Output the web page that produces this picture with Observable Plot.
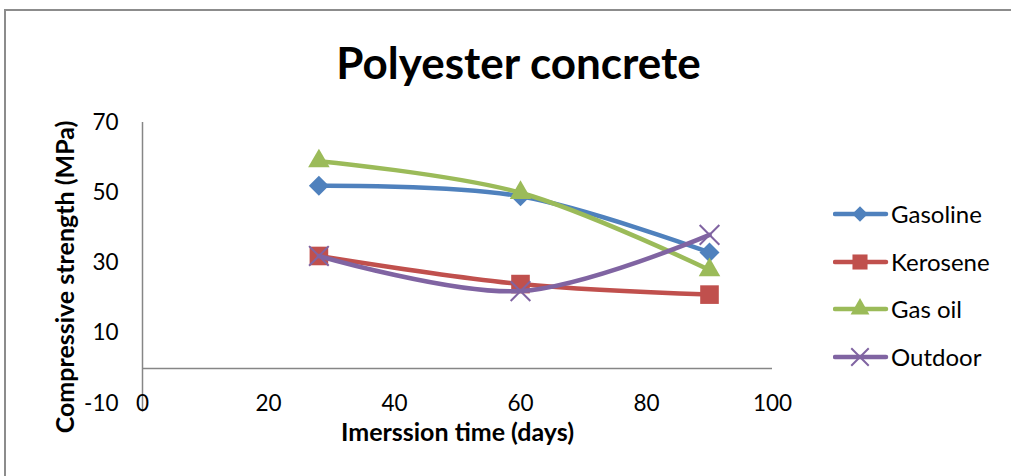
<!DOCTYPE html>
<html><head><meta charset="utf-8">
<script src="https://cdn.jsdelivr.net/npm/d3@7"></script>
<script src="https://cdn.jsdelivr.net/npm/@observablehq/plot@0.6"></script>
<style>
body{margin:0;background:#fff;}
#wrap{position:relative;width:1011px;height:476px;overflow:hidden;font-family:Lato,sans-serif;background:#fff;}
#frame{position:absolute;left:4px;top:9px;width:1100px;height:600px;border:2px solid #8c8c8c;box-sizing:border-box;}
#chart{position:absolute;left:0;top:0;}
#legend{position:absolute;left:833px;top:0;}
.item{position:absolute;left:0;height:30px;width:180px;}
.item svg{position:absolute;left:0;top:0;}
.item span{position:absolute;left:58px;top:0;line-height:30px;font-size:24px;color:#000;white-space:nowrap;}
</style></head>
<body>
<div id="wrap"><div id="frame"></div><div id="chart"></div><div id="legend"></div></div>
<script>
const title = "Polyester concrete";
const xTitle = "Imerssion time (days)";
const yTitle = "Compressive strength (MPa)";
const days = [28, 60, 90];
const seriesNames = ["Gasoline", "Kerosene", "Gas oil", "Outdoor"];
const gasoline = [52, 49, 33];
const kerosene = [32, 24, 21];
const gasOil = [59, 50, 28];
const outdoor = [32, 22, 38];
const colors = ["#4F81BD", "#C0504D", "#9BBB59", "#8064A2"];
const symbols = ["diamond2", "square", "triangle", "times"];
const xTicks = [0, 20, 40, 60, 80, 100];
const yTicks = [-10, 10, 30, 50, 70];

const values = [gasoline, kerosene, gasOil, outdoor];
const rows = [];
seriesNames.forEach((s, si) => days.forEach((d, i) => rows.push({series: s, day: d, value: values[si][i]})));

const markR = [9.0, 10.5, 8.0, 9.0];
const marks = [
  Plot.ruleY([0], {stroke: "#868686", strokeWidth: 1.5}),
  Plot.ruleX([0], {y1: -12.5, y2: 70, stroke: "#868686", strokeWidth: 1.5}),
  Plot.axisY(yTicks, {tickSize: 0, tickPadding: 24, fontSize: 22.5, label: null, tickFormat: d => String(d)}),
  Plot.axisX(xTicks, {tickSize: 0, tickPadding: 0, dy: -8, fontSize: 22.5, label: null, tickFormat: d => String(d)}),
  Plot.text([yTitle], {frameAnchor: "left", textAnchor: "middle", lineAnchor: "middle", rotate: -90, dx: -77, dy: 14, fontSize: 25, fontWeight: "bold"}),
  Plot.text([xTitle], {frameAnchor: "bottom", lineAnchor: "middle", dy: 29, fontSize: 25, fontWeight: "bold"}),
  Plot.text([title], {frameAnchor: "top", lineAnchor: "middle", dx: 61, dy: -58, fontSize: 44, fontWeight: "bold"})
];
seriesNames.forEach((s, si) => {
  const data = rows.filter(r => r.series === s);
  marks.push(Plot.line(data, {x: "day", y: "value", stroke: colors[si], strokeWidth: 4.5, curve: "catmull-rom"}));
  if (symbols[si] === "times") {
    marks.push(Plot.dot(data, {x: "day", y: "value", symbol: symbols[si], r: markR[si], stroke: colors[si], strokeWidth: 2}));
  } else {
    marks.push(Plot.dot(data, {x: "day", y: "value", symbol: symbols[si], r: markR[si], fill: colors[si], stroke: "none"}));
  }
});

const chart = Plot.plot({
  width: 1011, height: 476,
  marginLeft: 142, marginRight: 239, marginTop: 122, marginBottom: 73,
  style: {fontFamily: "Lato, sans-serif", color: "#000", background: "transparent", overflow: "visible"},
  x: {domain: [0, 100]},
  y: {domain: [-10, 70]},
  marks
});
document.getElementById("chart").appendChild(chart);

// legend
const legend = d3.select("#legend");
const legendY = [214, 262, 309, 357];
const symMap = {diamond2: d3.symbolDiamond2, square: d3.symbolSquare, triangle: d3.symbolTriangle, times: d3.symbolTimes};
const legR = [7, 8.5, 7, 8];
seriesNames.forEach((s, si) => {
  const item = legend.append("div").attr("class", "item").style("top", (legendY[si] - 15) + "px");
  const svg = item.append("svg").attr("width", 58).attr("height", 30);
  svg.append("line").attr("x1", 2).attr("x2", 53).attr("y1", 15).attr("y2", 15)
    .attr("stroke", colors[si]).attr("stroke-width", 4.5).attr("stroke-linecap", "round");
  const p = d3.symbol(symMap[symbols[si]], Math.PI * legR[si] * legR[si])();
  const path = svg.append("path").attr("d", p).attr("transform", "translate(27,15)");
  if (symbols[si] === "times") path.attr("fill", "none").attr("stroke", colors[si]).attr("stroke-width", 2);
  else path.attr("fill", colors[si]);
  item.append("span").text(s);
});
</script>
</body></html>
